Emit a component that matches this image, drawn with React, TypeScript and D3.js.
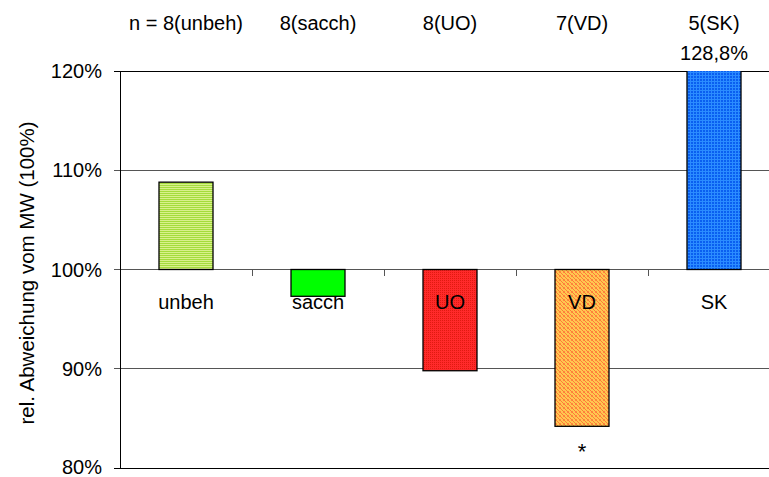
import React, { useRef, useEffect } from 'react';
import * as d3 from 'd3';

const categories = ['unbeh', 'sacch', 'UO', 'VD', 'SK'];
const values = [108.8, 97.3, 89.8, 84.2, 128.8];
const nLabels = ['n = 8(unbeh)', '8(sacch)', '8(UO)', '7(VD)', '5(SK)'];
const yTicks = [80, 90, 100, 110, 120];
const fills = ['url(#pUnbeh)', '#00ff00', 'url(#pUO)', 'url(#pVD)', 'url(#pSK)'];

const App = () => {
  const svgRef = useRef<SVGSVGElement>(null);

  useEffect(() => {
    const w = 769;
    const h = 477;
    const left = 120;
    const right = 780;
    const top = 71;
    const bottom = 468;
    const font = 'Liberation Sans, Arial, sans-serif';
    const fs = 20;

    const svg = d3.select(svgRef.current).attr('width', w).attr('height', h);
    svg.selectAll('*').remove();

    // patterns
    const defs = svg.append('defs');
    const pu = defs.append('pattern').attr('id', 'pUnbeh').attr('patternUnits', 'userSpaceOnUse')
      .attr('width', 4).attr('height', 2);
    pu.append('rect').attr('width', 4).attr('height', 2).attr('fill', '#a4dc3c');
    pu.append('rect').attr('width', 4).attr('height', 1).attr('fill', '#d8f08c');

    const po = defs.append('pattern').attr('id', 'pUO').attr('patternUnits', 'userSpaceOnUse')
      .attr('width', 2).attr('height', 2);
    po.append('rect').attr('width', 2).attr('height', 2).attr('fill', '#ff2a2a');
    po.append('rect').attr('width', 1).attr('height', 1).attr('fill', '#e01a10');

    const pv = defs.append('pattern').attr('id', 'pVD').attr('patternUnits', 'userSpaceOnUse')
      .attr('width', 4).attr('height', 4);
    pv.append('rect').attr('width', 4).attr('height', 4).attr('fill', '#ffc850');
    [[0, 0], [1, 1], [2, 2], [3, 3]].forEach(([px, py]) => {
      pv.append('rect').attr('x', px).attr('y', py).attr('width', 1).attr('height', 1).attr('fill', '#ff7a3a');
    });
    pv.append('rect').attr('x', 3).attr('y', 0).attr('width', 1).attr('height', 1).attr('fill', '#ff8a40');
    pv.append('rect').attr('x', 0).attr('y', 3).attr('width', 1).attr('height', 1).attr('fill', '#ff8a40');

    const ps = defs.append('pattern').attr('id', 'pSK').attr('patternUnits', 'userSpaceOnUse')
      .attr('width', 3).attr('height', 3);
    ps.append('rect').attr('width', 3).attr('height', 3).attr('fill', '#0a5ff0');
    ps.append('rect').attr('width', 3).attr('height', 1).attr('fill', '#2b8cff');
    ps.append('rect').attr('width', 1).attr('height', 3).attr('fill', '#2b8cff');

    defs.append('clipPath').attr('id', 'plotClip').append('rect')
      .attr('x', left).attr('y', top).attr('width', right - left).attr('height', bottom - top);

    const x = d3.scaleBand().domain(categories).range([left, right]).paddingInner(0).paddingOuter(0);
    const y = d3.scaleLinear().domain([80, 120]).range([bottom, top]);
    const bw = 54;
    const cx = (c: string) => (x(c) as number) + x.bandwidth() / 2;
    const labelY = y(100) + 39;

    // gridlines
    svg.append('g').selectAll('line').data(yTicks).join('line')
      .attr('x1', left - 6).attr('x2', right)
      .attr('y1', (d) => y(d)).attr('y2', (d) => y(d))
      .attr('stroke', (d) => (d === 120 || d === 80 ? '#000' : '#555'))
      .attr('stroke-width', 1).attr('shape-rendering', 'crispEdges');

    // category labels (drawn under the bars, as in the original)
    svg.append('g').selectAll('text').data(categories).join('text')
      .attr('x', (d) => cx(d))
      .attr('y', labelY)
      .attr('text-anchor', 'middle').attr('font-family', font).attr('font-size', fs)
      .text((d) => d);

    // bars
    svg.append('g').attr('clip-path', 'url(#plotClip)')
      .selectAll('rect').data(values).join('rect')
      .attr('x', (d, i) => cx(categories[i]) - bw / 2)
      .attr('y', (d) => y(Math.max(d, 100)))
      .attr('width', bw)
      .attr('height', (d) => Math.abs(y(d) - y(100)))
      .attr('fill', (d, i) => fills[i])
      .attr('stroke', '#000').attr('stroke-width', 1.3);

    // labels that sit on top of the bars
    svg.append('g').selectAll('text').data(['UO', 'VD']).join('text')
      .attr('x', (d) => cx(d))
      .attr('y', labelY)
      .attr('text-anchor', 'middle').attr('font-family', font).attr('font-size', fs)
      .text((d) => d);

    // category ticks on 100% line
    svg.append('g').selectAll('line').data(categories.slice(1)).join('line')
      .attr('x1', (d) => x(d) as number).attr('x2', (d) => x(d) as number)
      .attr('y1', y(100)).attr('y2', y(100) + 6)
      .attr('stroke', '#555').attr('shape-rendering', 'crispEdges');

    // y axis
    svg.append('line').attr('x1', left).attr('x2', left).attr('y1', top).attr('y2', bottom)
      .attr('stroke', '#000').attr('shape-rendering', 'crispEdges');

    svg.append('g').selectAll('text').data(yTicks).join('text')
      .attr('x', left - 18).attr('y', (d) => Math.min(y(d) + 7, 474))
      .attr('text-anchor', 'end').attr('font-family', font).attr('font-size', fs)
      .text((d) => `${d}%`);

    svg.append('text')
      .attr('transform', `translate(34,${273}) rotate(-90)`)
      .attr('text-anchor', 'middle').attr('font-family', font).attr('font-size', 20.5)
      .text('rel. Abweichung vom MW (100%)');

    // n labels
    svg.append('g').selectAll('text').data(nLabels).join('text')
      .attr('x', (d, i) => cx(categories[i]))
      .attr('y', 30)
      .attr('text-anchor', 'middle').attr('font-family', font).attr('font-size', fs)
      .text((d) => d);

    // value label for clipped bar
    svg.append('text')
      .attr('x', cx('SK')).attr('y', 60)
      .attr('text-anchor', 'middle').attr('font-family', font).attr('font-size', fs)
      .text('128,8%');

    // significance
    svg.append('text')
      .attr('x', cx('VD')).attr('y', y(values[3]) + 33)
      .attr('text-anchor', 'middle').attr('font-family', font).attr('font-size', 22)
      .text('*');
  }, []);

  return <svg ref={svgRef} style={{ position: 'absolute', left: 0, top: 0 }}></svg>;
};

export default App;
